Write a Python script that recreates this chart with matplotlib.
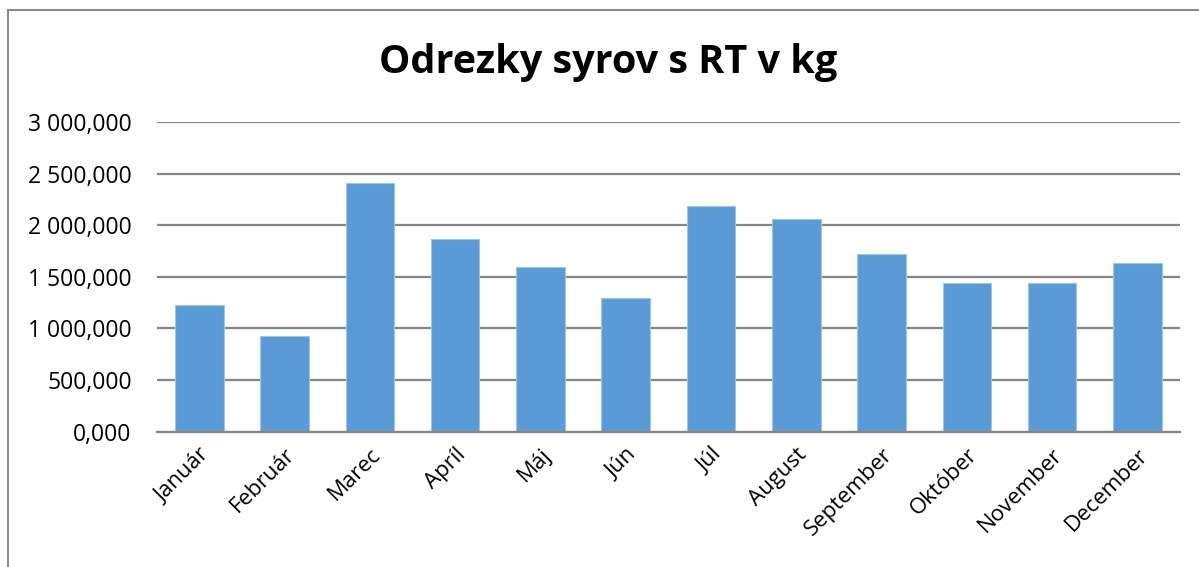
import matplotlib
matplotlib.use("Agg")
import matplotlib.pyplot as plt
from matplotlib.ticker import FuncFormatter
from matplotlib.lines import Line2D

months = ["Január", "Február", "Marec", "Apríl", "Máj", "Jún", "Júl",
          "August", "September", "Október", "November", "December"]
values = [1224.0, 927.0, 2409.0, 1864.0, 1598.0, 1295.0, 2186.0,
          2057.0, 1718.0, 1440.0, 1440.0, 1637.0]
y_ticks = [0, 500, 1000, 1500, 2000, 2500, 3000]
title = "Odrezky syrov s RT v kg"

plt.rcParams['font.family'] = ['Open Sans', 'DejaVu Sans']

fig = plt.figure(figsize=(11.99, 5.67), dpi=100)
ax = fig.add_axes([156.7/1199, 1-431.7/567, (1180-156.7)/1199, (431.7-122)/567])

x = list(range(len(months)))
ax.bar(x, values, width=0.57, color="#5B9BD5", edgecolor="#9DC3E6", linewidth=0.8, zorder=3)

ax.set_xlim(-0.5, len(months)-0.5)
ax.set_ylim(0, 3000)
ax.set_yticks(y_ticks)

def fmt(v, pos):
    s = f"{v:,.3f}"
    s = s.replace(",", " ").replace(".", ",")
    return s
ax.yaxis.set_major_formatter(FuncFormatter(fmt))

ax.grid(axis='y', color="#868686", linewidth=1.6, zorder=0)
for s in ['left', 'right', 'top']:
    ax.spines[s].set_visible(False)
ax.spines['bottom'].set_color("#868686")
ax.spines['bottom'].set_linewidth(1.6)
ax.spines['bottom'].set_zorder(4)
ax.tick_params(axis='both', length=0, colors='black')
ax.tick_params(axis='y', pad=18, labelsize=16.5)
ax.set_xticks(x)
ax.set_xticklabels(months, rotation=45, ha='right', rotation_mode='anchor')
ax.tick_params(axis='x', pad=9, labelsize=16)

fig.text(0.507, 1-63/567, title, ha='center', va='center', fontsize=28.5, fontweight='bold')

# chart border (left and top)
fig.add_artist(Line2D([7.5/1199, 7.5/1199], [0, 1-10/567], transform=fig.transFigure, color="#8C8C8C", linewidth=1.5))
fig.add_artist(Line2D([7.5/1199, 1], [1-10/567, 1-10/567], transform=fig.transFigure, color="#8C8C8C", linewidth=1.5))

fig.savefig("out.png", dpi=100)
